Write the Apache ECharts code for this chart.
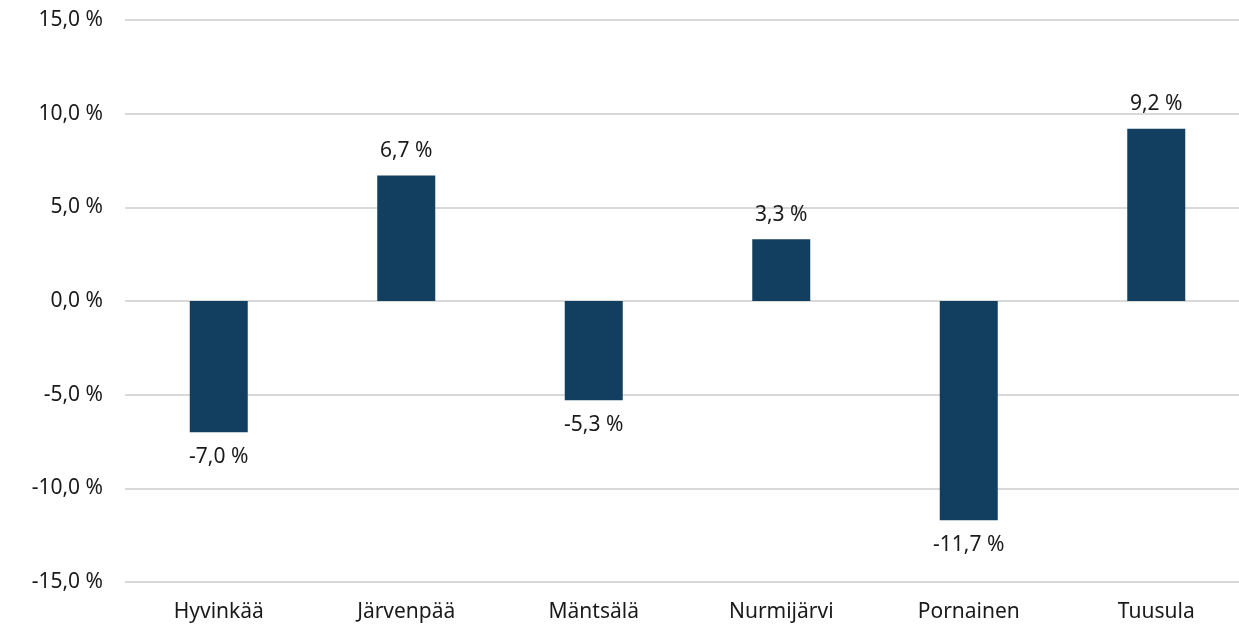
<!DOCTYPE html>
<html>
<head>
<meta charset="UTF-8">
<title>Muutos</title>
<style>
html, body { margin: 0; padding: 0; background: #fff; }
#main { width: 1239px; height: 624px; }
</style>
</head>
<body>
<div id="main"></div>
<script src="https://cdn.jsdelivr.net/npm/echarts@6/dist/echarts.min.js"></script>
<script>
var kunnat = ['Hyvinkää', 'Järvenpää', 'Mäntsälä', 'Nurmijärvi', 'Pornainen', 'Tuusula'];
var muutos = [-7.0, 6.7, -5.3, 3.3, -11.7, 9.2];

function pros(v) {
	return v.toFixed(1).replace('.', ',') + ' %';
}

var chart = echarts.init(document.getElementById('main'));
var option = {
	animation: false,
	textStyle: { fontFamily: '"Noto Sans", sans-serif' },
	grid: { left: 125, right: -11, top: 20, bottom: 42, containLabel: false, outerBoundsMode: 'none' },
	xAxis: {
		type: 'category',
		data: kunnat,
		axisLine: { show: false },
		axisTick: { show: false },
		axisLabel: { color: '#1a1a1a', fontSize: 21, margin: 20, verticalAlign: 'top', interval: 0 }
	},
	yAxis: {
		type: 'value',
		min: -15,
		max: 15,
		interval: 5,
		axisLabel: { color: '#1a1a1a', fontSize: 21, margin: 22, formatter: pros },
		splitLine: { lineStyle: { color: '#d9d9d9', width: 2 } }
	},
	series: [{
		type: 'bar',
		data: muutos,
		barWidth: 58,
		itemStyle: { color: '#123f5f' },
		label: {
			show: true,
			position: 'outside',
			distance: 14,
			color: '#1a1a1a',
			fontSize: 21,
			formatter: function (p) { return pros(p.value); }
		}
	}]
};
chart.setOption(option);
</script>
</body>
</html>
